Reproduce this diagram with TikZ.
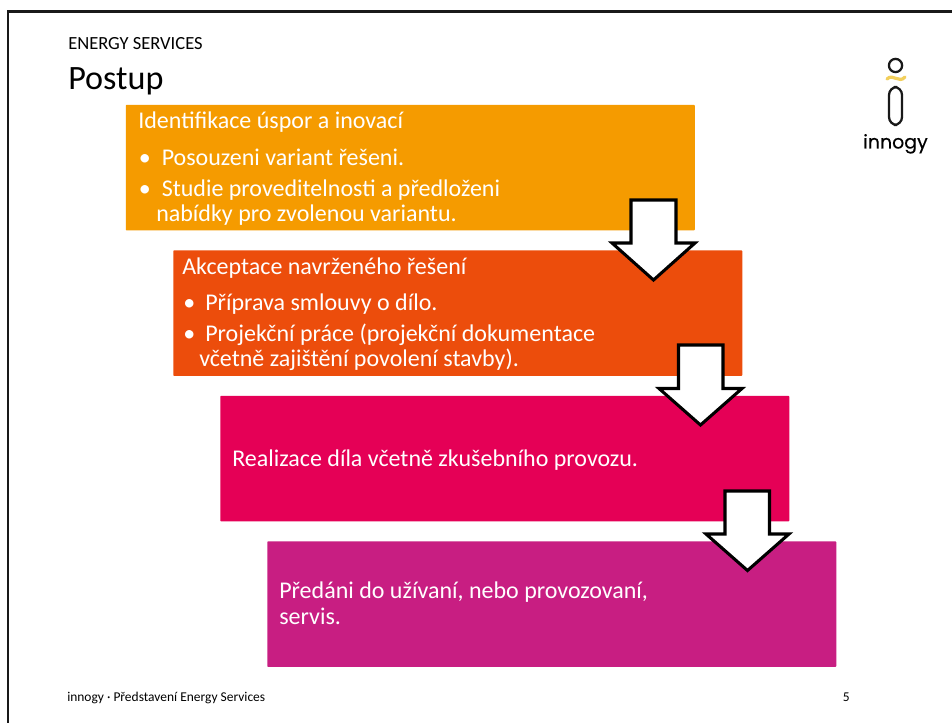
\documentclass[tikz,border=0pt]{standalone}
\usepackage{fontspec}
\setmainfont{Carlito}
\newfontfamily\logofont[FakeBold=0.3]{Poppins}
\definecolor{cOrange}{HTML}{F59B00}
\definecolor{cRed}{HTML}{EC4D0C}
\definecolor{cPink}{HTML}{E50056}
\definecolor{cMagenta}{HTML}{C81E82}
\definecolor{cYellow}{HTML}{F2CF5C}
\begin{document}
\begin{tikzpicture}[x=0.75pt,y=-0.75pt,
  panel/.style={minimum width=426.75pt,minimum height=94.2pt,inner sep=0pt,rounded corners=0.6pt,anchor=north west},
  body/.style={text=white,anchor=base west,inner sep=0pt,font=\fontsize{18pt}{21pt}\selectfont},
  head/.style={text=black,anchor=base west,inner sep=0pt},
  blockarrow/.style={draw=black,fill=white,line width=2.3pt,miter limit=10}]
\useasboundingbox (0,0) rectangle (952,723);
\fill[white] (0,0) rectangle (952,723);
% slide frame
\coordinate (frameR) at (952,11.5);
\coordinate (frameC) at (8,11.5);
\coordinate (frameB) at (8,723);
\draw[line width=2.2pt,black!90] (frameR) -- (frameC) -- (frameB);
% titles
\node[head,font=\fontsize{13.9pt}{16pt}\selectfont] (kicker) at (68,50) {ENERGY SERVICES};
\node[head,font=\fontsize{25.6pt}{30pt}\selectfont] (title) at (68,90) {Postup};
% panels
\node[panel,fill=cOrange] (p1) at (125.5,104.5) {};
\node[panel,fill=cRed] (p2) at (173,250) {};
\node[panel,fill=cPink] (p3) at (220,395.5) {};
\node[panel,fill=cMagenta] (p4) at (267,541) {};
% panel 1 text
\node[body] (t11) at (138,128.5) {Identifikace úspor a inovací};
\node[body] (b12) at (138.5,165.5) {•};
\node[body] (t12) at (161.5,165.5) {Posouzeni variant řešeni.};
\node[body] (b13) at (138.5,196.5) {•};
\node[body] (t13) at (161.5,196.5) {Studie proveditelnosti a předloženi};
\node[body] (t14) at (156,221.5) {nabídky pro zvolenou variantu.};
% panel 2 text
\node[body] (t21) at (182,274.5) {Akceptace navrženého řešení};
\node[body] (b22) at (183,310.5) {•};
\node[body] (t22) at (205,310.5) {Příprava smlouvy o dílo.};
\node[body] (b23) at (183,341.5) {•};
\node[body] (t23) at (205,341.5) {Projekční práce (projekční dokumentace};
\node[body] (t24) at (199,366.5) {včetně zajištění povolení stavby).};
% panel 3, 4 text
\node[body] (t31) at (232,466) {Realizace díla včetně zkušebního provozu.};
\node[body] (t41) at (279,598) {Předáni do užívaní, nebo provozovaní,};
\node[body] (t42) at (279,624) {servis.};
% block arrows
\draw[blockarrow] (631,200) -- (676,200) -- (676,243) -- (695,243) -- (653.5,280) -- (612,243) -- (631,243) -- cycle;
\draw[blockarrow] (678.5,345) -- (723,345) -- (723,388.5) -- (742,388.5) -- (700.5,425) -- (659,388.5) -- (678.5,388.5) -- cycle;
\draw[blockarrow] (725,491) -- (769.5,491) -- (769.5,534) -- (789,534) -- (747.5,570.5) -- (706,534) -- (725,534) -- cycle;
% logo
\draw[line width=1.7pt,black!90] (895.5,65.5) circle[radius=6.6];
\draw[line width=2.4pt,cYellow,line cap=round] (887,79) .. controls (893,73) and (899,84) .. (905,77);
\draw[line width=1.7pt,black!90,rounded corners=6pt] (889,87) rectangle (902,125);
\node[head,font=\logofont\fontsize{14.2pt}{16pt}\selectfont] (logo) at (863,148.5) {innogy};
% footer
\node[head,font=\fontsize{10.1pt}{12pt}\selectfont] (foot) at (67,701) {innogy · Představení Energy Services};
\node[head,font=\fontsize{10.1pt}{12pt}\selectfont] (num) at (842.5,701) {5};
\end{tikzpicture}
\end{document}
